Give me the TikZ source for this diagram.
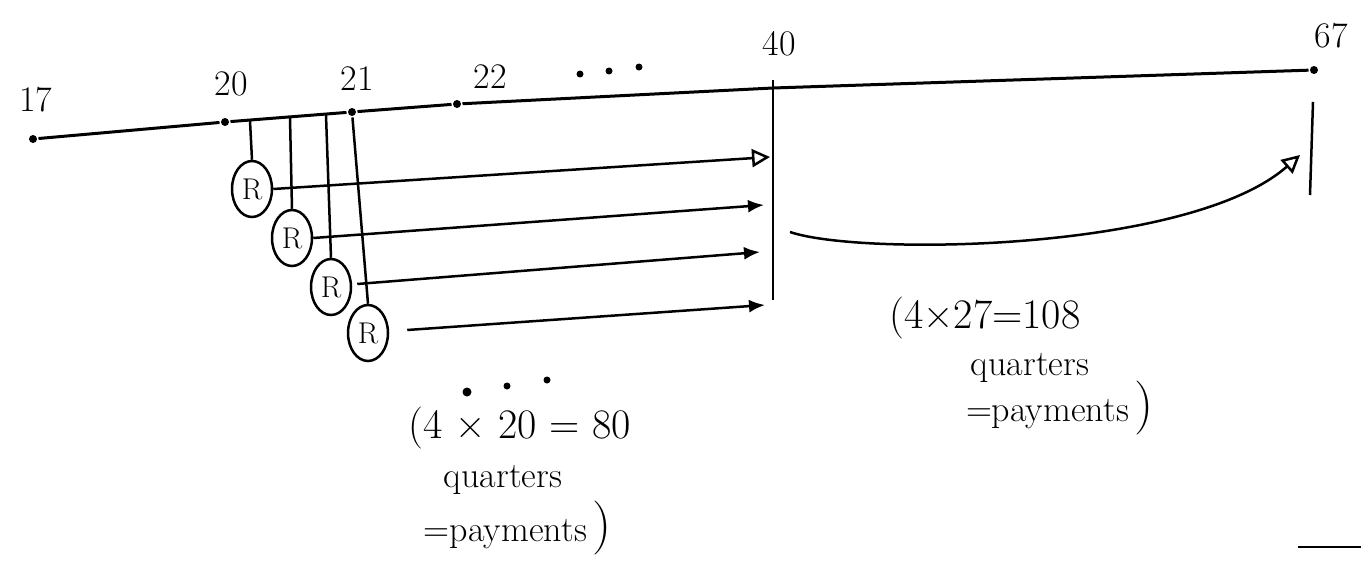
\documentclass[tikz,border=0pt]{standalone}
\usepackage{amsmath}
\usepackage{tikz}
\usetikzlibrary{shapes.geometric,arrows.meta}

\tikzset{
  tick/.style={circle,fill,inner sep=0pt,minimum size=8pt},
  pay/.style={ellipse,draw,line width=2.5pt,minimum width=40pt,minimum height=56pt,inner sep=0pt,font=\fontsize{30}{32}\selectfont},
  age/.style={inner sep=1pt,font=\fontsize{36}{40}\selectfont},
  note/.style={inner sep=1pt,align=center,font=\fontsize{36}{42}\selectfont},
  sum/.style={inner sep=1pt,font=\fontsize{42}{46}\selectfont},
  flow/.style={line width=2.5pt,-{Latex[length=16pt,width=13pt]}},
  hollow/.style={line width=2.5pt,-{Triangle[open,length=18pt,width=18pt,line width=2.5pt]}}
}
\newcommand{\bigclose}{{\fontsize{54}{54}\selectfont)}}

\begin{document}
\begin{tikzpicture}[x=1pt,y=1pt,yscale=-1,xscale=1,line width=3pt]
\useasboundingbox (0,0) rectangle (1361,562);

% time line and its dots
\node [tick] (t17) at (33,139) {};
\node [tick] (t20) at (225,122) {};
\node [tick] (t21) at (352,112) {};
\node [tick] (t22) at (457,104) {};
\coordinate (t40) at (773,88);
\node [tick] (t67) at (1314,70) {};
\draw (t17) -- (t20) -- (t21) -- (t22) -- (t40) -- (t67);

% ages
\node [age] (l17) at (36,100) {17};
\node [age] (l20) at (231,84) {20};
\node [age] (l21) at (357,79) {21};
\node [age] (l22) at (490,77) {22};
\node [age] (l40) at (779,44) {40};
\node [age] (l67) at (1331,36) {67};
\fill (580,74) circle (3.5pt) (609,71) circle (3.5pt) (639,67) circle (3.5pt);

% quarterly payments
\node [pay] (r1) at (252,189) {R};
\node [pay] (r2) at (292,238) {R};
\node [pay] (r3) at (331,287) {R};
\node [pay] (r4) at (368,333) {R};
\coordinate (d1) at (250,121);
\coordinate (d2) at (290,118);
\coordinate (d3) at (326,115);
\draw [line width=2.5pt] (d1) -- (r1.north);
\draw [line width=2.5pt] (d2) -- (r2.north);
\draw [line width=2.5pt] (d3) -- (r3.north);
\draw [line width=2.5pt] (t21) -- (r4.north);

% up to 40
\coordinate (a1) at (770,157);
\coordinate (a2) at (764,205);
\coordinate (a3) at (760,252);
\coordinate (a4) at (765,305);
\draw [hollow] (r1.east) -- (a1);
\draw [flow] (r2.east) -- (a2);
\draw [flow] (r3.east) ++(5,-3) -- (a3);
\draw [flow] (r4.east) ++(18,-3) -- (a4);
\coordinate (b40t) at (773,80);
\coordinate (b40) at (773,300);
\draw [line width=2.5pt] (b40t) -- (b40);
\fill (467,392) circle (4.5pt) (507,386) circle (3.5pt) (547,380) circle (3.5pt);

% on to 67
\coordinate (c0) at (790,232);
\coordinate (c1) at (1300,155);
\draw [hollow] (c0) .. controls (860,256) and (1190,252) .. (c1);
\coordinate (e1) at (1313,102);
\coordinate (e2) at (1310,195);
\draw [line width=2.5pt] (e1) -- (e2);

% counts
\node [sum] (n1) at (520,428) {(4 × 20 = 80};
\node [note] (n2) at (503,480) {quarters};
\node [note] (n3) at (518,528) {=payments\,\bigclose};
\node [sum] (n4) at (985,318) {(4×27=108};
\node [note] (n5) at (1030,368) {quarters};
\node [note] (n6) at (1060,408) {=payments\,\bigclose};

\draw [line width=2pt] (1298,547) -- (1361,547);
\end{tikzpicture}
\end{document}
